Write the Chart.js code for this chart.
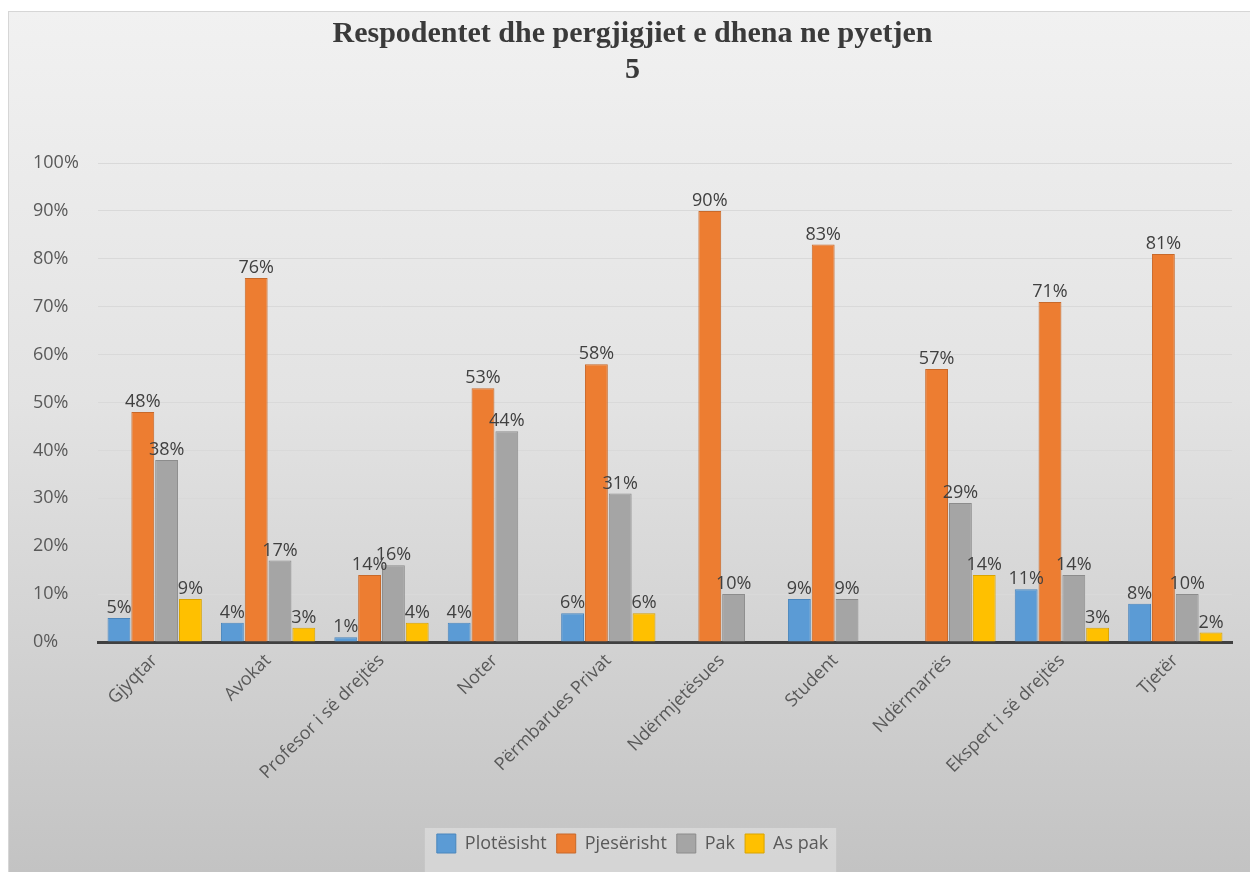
<!DOCTYPE html>
<html>
<head>
<meta charset="utf-8">
<script src="https://cdn.jsdelivr.net/npm/chart.js@4.4.1/dist/chart.umd.min.js"></script>
<style>
  html, body { margin: 0; padding: 0; background: #ffffff; }
  #wrap { width: 1250px; height: 872px; position: relative; }
</style>
</head>
<body>
<div id="wrap"><canvas id="c" width="1250" height="872"></canvas></div>
<script>
const titleLines = ['Respodentet dhe pergjigjiet e dhena ne pyetjen', '5'];
const categories = ['Gjyqtar', 'Avokat', 'Profesor i së drejtës', 'Noter', 'Përmbarues Privat',
                    'Ndërmjetësues', 'Student', 'Ndërmarrës', 'Ekspert i së drejtës', 'Tjetër'];
const seriesNames = ['Plotësisht', 'Pjesërisht', 'Pak', 'As pak'];
const plotesisht = [5, 4, 1, 4, 6, 0, 9, 0, 11, 8];
const pjeserisht = [48, 76, 14, 53, 58, 90, 83, 57, 71, 81];
const pak        = [38, 17, 16, 44, 31, 10, 9, 29, 14, 10];
const asPak      = [9, 3, 4, 0, 6, 0, 0, 14, 3, 2];
const yTicks = [0, 10, 20, 30, 40, 50, 60, 70, 80, 90, 100];

const fills   = ['#5B9BD5', '#ED7D31', '#A5A5A5', '#FFC000'];
const borders = ['#4a86bd', '#c8692a', '#8c8c8c', '#d9a400'];
const values = [plotesisht, pjeserisht, pak, asPak];

const bgPlugin = {
  id: 'bg',
  beforeDraw(chart) {
    const ctx = chart.ctx;
    ctx.save();
    ctx.fillStyle = '#ffffff';
    ctx.fillRect(0, 0, chart.width, chart.height);
    const g = ctx.createLinearGradient(0, 11, 0, chart.height);
    g.addColorStop(0, '#f1f1f1');
    g.addColorStop(0.45, '#e3e3e3');
    g.addColorStop(1, '#c3c3c3');
    ctx.fillStyle = g;
    ctx.fillRect(8, 11, chart.width - 8, chart.height - 11);
    ctx.strokeStyle = '#d6d6d6';
    ctx.lineWidth = 1;
    ctx.strokeRect(8.5, 11.5, chart.width, chart.height);
    // legend background
    const lg = chart.legend;
    if (lg && lg.legendHitBoxes && lg.legendHitBoxes.length) {
      let l = Infinity, r = -Infinity;
      lg.legendHitBoxes.forEach(b => { l = Math.min(l, b.left); r = Math.max(r, b.left + b.width); });
      ctx.fillStyle = 'rgba(236,236,236,0.45)';
      ctx.fillRect(l - 12, lg.top + 4, (r - l) + 20, chart.height - lg.top - 4);
    }
    ctx.restore();
  }
};

const labelPlugin = {
  id: 'barLabels',
  afterDatasetsDraw(chart) {
    const ctx = chart.ctx;
    ctx.save();
    ctx.font = '18px "Open Sans"';
    ctx.fillStyle = '#404040';
    ctx.textAlign = 'center';
    ctx.textBaseline = 'bottom';
    chart.data.datasets.forEach((ds, di) => {
      const meta = chart.getDatasetMeta(di);
      meta.data.forEach((bar, i) => {
        const v = ds.data[i];
        if (v > 0) ctx.fillText(v + '%', bar.x, bar.y - 1);
      });
    });
    ctx.restore();
  }
};

new Chart(document.getElementById('c'), {
  type: 'bar',
  data: {
    labels: categories,
    datasets: seriesNames.map((n, i) => ({
      label: n,
      data: values[i],
      backgroundColor: fills[i],
      borderColor: borders[i],
      borderWidth: 1,
      barPercentage: 0.96,
      categoryPercentage: 0.84
    }))
  },
  options: {
    responsive: false,
    animation: false,
    devicePixelRatio: 1,
    layout: { padding: { left: 33, right: 18, top: 16, bottom: 9 } },
    plugins: {
      title: {
        display: true,
        text: titleLines,
        color: '#3a3a3a',
        font: { family: '"Liberation Serif", "Times New Roman", serif', size: 30, weight: 'bold', lineHeight: 1.2 },
        padding: { top: 0, bottom: 75 }
      },
      legend: {
        position: 'bottom',
        labels: {
          boxWidth: 19, boxHeight: 19, padding: 10,
          color: '#595959',
          font: { family: '"Open Sans"', size: 18 }
        }
      },
      tooltip: { enabled: false }
    },
    scales: {
      x: {
        grid: { display: false },
        border: { display: true, color: '#404040', width: 3 },
        ticks: {
          color: '#595959',
          font: { family: '"Open Sans"', size: 18 },
          maxRotation: 45, minRotation: 45, autoSkip: false, padding: 0
        },
        afterFit(s) { s.height = 182; }
      },
      y: {
        min: 0, max: 100,
        afterBuildTicks(s) { s.ticks = yTicks.map(v => ({ value: v })); },
        grid: { color: '#d9d9d9', lineWidth: 1, drawTicks: false },
        border: { display: false },
        ticks: {
          color: '#595959',
          font: { family: '"Open Sans"', size: 18 },
          crossAlign: 'far',
          callback: v => v + '%'
        },
        afterFit(s) { s.width = 65; }
      }
    }
  },
  plugins: [bgPlugin, labelPlugin]
});
</script>
</body>
</html>
